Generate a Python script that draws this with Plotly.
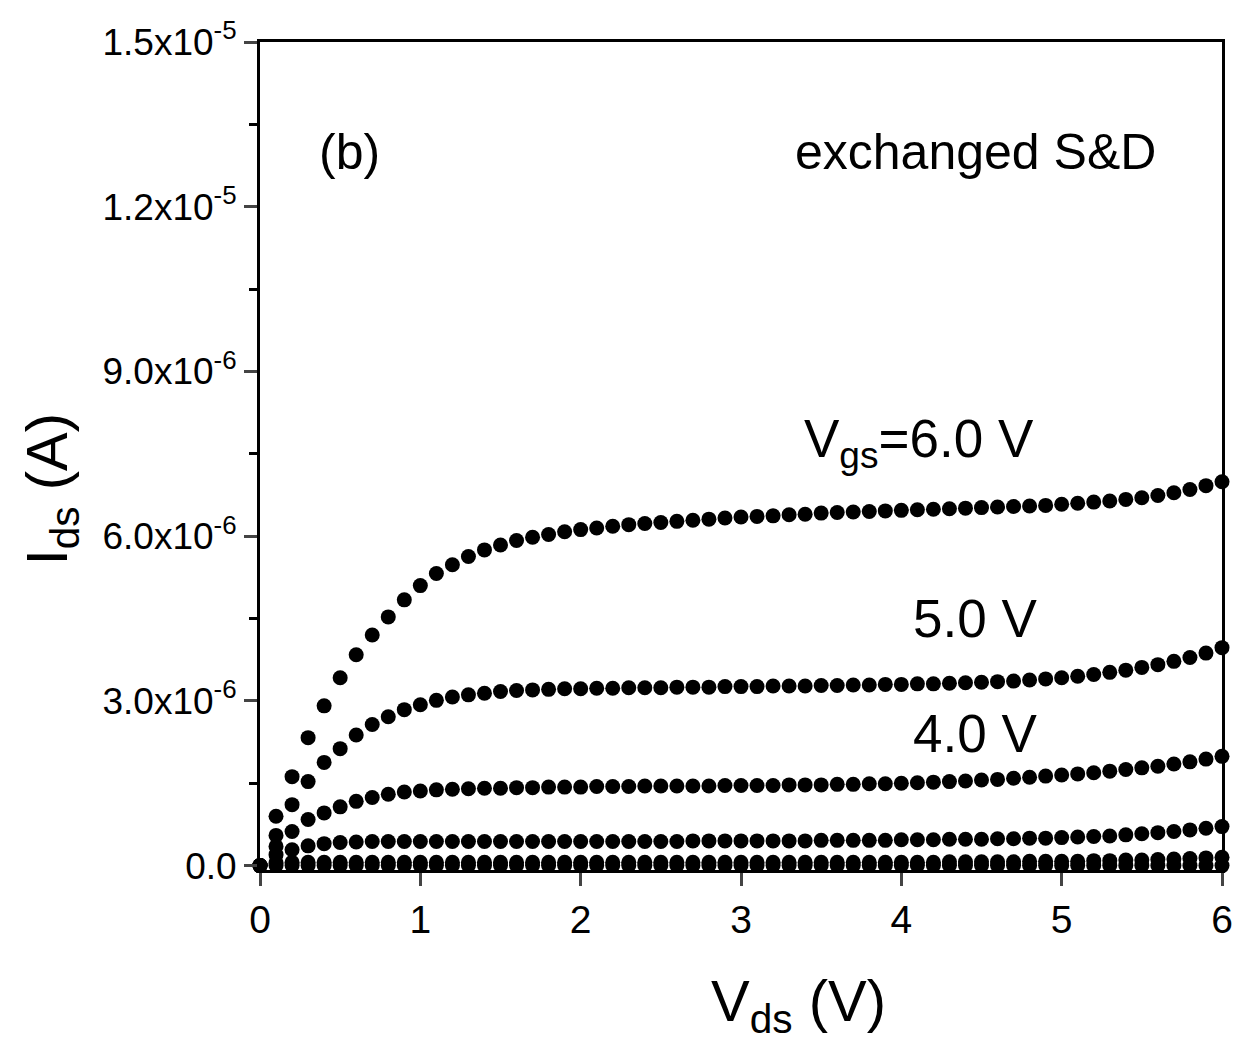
import plotly.graph_objects as go

# Drain-source voltage (V)
vds = [0.0, 0.1, 0.2, 0.3, 0.4, 0.5, 0.6, 0.7, 0.8, 0.9,
       1.0, 1.1, 1.2, 1.3, 1.4, 1.5, 1.6, 1.7, 1.8, 1.9,
       2.0, 2.1, 2.2, 2.3, 2.4, 2.5, 2.6, 2.7, 2.8, 2.9,
       3.0, 3.1, 3.2, 3.3, 3.4, 3.5, 3.6, 3.7, 3.8, 3.9,
       4.0, 4.1, 4.2, 4.3, 4.4, 4.5, 4.6, 4.7, 4.8, 4.9,
       5.0, 5.1, 5.2, 5.3, 5.4, 5.5, 5.6, 5.7, 5.8, 5.9, 6.0]

# Drain current in units of 1e-6 A
ids_vgs6 = [0.00, 0.90, 1.62, 2.33, 2.91, 3.42, 3.84, 4.20, 4.53, 4.84,
            5.10, 5.32, 5.48, 5.63, 5.75, 5.84, 5.92, 5.98, 6.03, 6.08,
            6.12, 6.15, 6.18, 6.21, 6.23, 6.25, 6.27, 6.29, 6.31, 6.33,
            6.35, 6.36, 6.37, 6.39, 6.40, 6.42, 6.43, 6.44, 6.45, 6.46,
            6.47, 6.48, 6.49, 6.50, 6.51, 6.52, 6.53, 6.54, 6.55, 6.56,
            6.58, 6.60, 6.62, 6.64, 6.67, 6.70, 6.74, 6.79, 6.85, 6.92, 6.99]
ids_vgs5 = [0.00, 0.55, 1.11, 1.53, 1.88, 2.13, 2.38, 2.57, 2.71, 2.84,
            2.93, 3.01, 3.07, 3.11, 3.14, 3.17, 3.19, 3.20, 3.21, 3.22,
            3.22, 3.23, 3.23, 3.24, 3.24, 3.24, 3.25, 3.25, 3.25, 3.26,
            3.26, 3.26, 3.27, 3.27, 3.27, 3.28, 3.28, 3.29, 3.29, 3.30,
            3.30, 3.31, 3.31, 3.32, 3.33, 3.34, 3.35, 3.36, 3.38, 3.40,
            3.42, 3.45, 3.48, 3.52, 3.56, 3.61, 3.66, 3.72, 3.79, 3.87, 3.97]
ids_vgs4 = [0.00, 0.35, 0.62, 0.84, 0.96, 1.07, 1.17, 1.24, 1.30, 1.34,
            1.36, 1.38, 1.39, 1.40, 1.41, 1.41, 1.42, 1.42, 1.43, 1.43,
            1.43, 1.44, 1.44, 1.44, 1.45, 1.45, 1.45, 1.45, 1.45, 1.46,
            1.46, 1.46, 1.46, 1.47, 1.47, 1.47, 1.48, 1.48, 1.49, 1.49,
            1.50, 1.51, 1.52, 1.53, 1.54, 1.56, 1.57, 1.59, 1.61, 1.63,
            1.65, 1.67, 1.69, 1.72, 1.75, 1.78, 1.81, 1.85, 1.89, 1.94, 1.99]
ids_vgs3 = [0.00, 0.20, 0.29, 0.36, 0.40, 0.42, 0.43, 0.44, 0.44, 0.44,
            0.44, 0.44, 0.44, 0.44, 0.44, 0.44, 0.44, 0.44, 0.44, 0.44,
            0.44, 0.44, 0.44, 0.44, 0.44, 0.44, 0.44, 0.45, 0.45, 0.45,
            0.45, 0.45, 0.45, 0.45, 0.45, 0.46, 0.46, 0.46, 0.46, 0.46,
            0.47, 0.47, 0.47, 0.48, 0.48, 0.48, 0.49, 0.49, 0.50, 0.50,
            0.51, 0.52, 0.53, 0.54, 0.56, 0.58, 0.60, 0.62, 0.65, 0.68, 0.71]
ids_vgs2 = [0.00, 0.05, 0.06, 0.06, 0.06, 0.06, 0.06, 0.06, 0.06, 0.06,
            0.06, 0.06, 0.06, 0.06, 0.06, 0.06, 0.06, 0.06, 0.06, 0.06,
            0.06, 0.06, 0.06, 0.06, 0.06, 0.06, 0.06, 0.06, 0.06, 0.06,
            0.06, 0.06, 0.06, 0.06, 0.06, 0.06, 0.06, 0.06, 0.06, 0.06,
            0.06, 0.06, 0.06, 0.07, 0.07, 0.07, 0.07, 0.07, 0.08, 0.08,
            0.08, 0.08, 0.09, 0.09, 0.10, 0.10, 0.11, 0.12, 0.13, 0.14, 0.15]
ids_vgs1 = [0.00, 0.00, 0.00, 0.00, 0.00, 0.00, 0.00, 0.00, 0.00, 0.00,
            0.00, 0.00, 0.00, 0.00, 0.00, 0.00, 0.00, 0.00, 0.00, 0.00,
            0.00, 0.00, 0.00, 0.00, 0.00, 0.00, 0.00, 0.00, 0.00, 0.00,
            0.00, 0.00, 0.00, 0.00, 0.00, 0.00, 0.00, 0.00, 0.00, 0.00,
            0.00, 0.00, 0.00, 0.00, 0.00, 0.00, 0.00, 0.00, 0.00, 0.00,
            0.00, 0.00, 0.00, 0.00, 0.00, 0.00, 0.00, 0.00, 0.00, 0.00, 0.00]

series = [ids_vgs6, ids_vgs5, ids_vgs4, ids_vgs3, ids_vgs2, ids_vgs1]
series_names = ["6.0 V", "5.0 V", "4.0 V", "3.0 V", "2.0 V", "1.0 V"]

ytick_vals = [0, 3e-6, 6e-6, 9e-6, 1.2e-5, 1.5e-5]
ytick_text = ["0.0", "3.0x10<sup>-6</sup>", "6.0x10<sup>-6</sup>",
              "9.0x10<sup>-6</sup>", "1.2x10<sup>-5</sup>", "1.5x10<sup>-5</sup>"]
xtick_vals = [0, 1, 2, 3, 4, 5, 6]

FONT = "Liberation Sans, Arial, sans-serif"

fig = go.Figure()
for name, vals in zip(series_names, series):
    fig.add_trace(go.Scatter(
        x=vds, y=[v * 1e-6 for v in vals], mode="markers", name=name,
        marker=dict(color="black", size=15, line=dict(width=0)),
        cliponaxis=False, showlegend=False))

fig.update_layout(
    width=1241, height=1049,
    margin=dict(l=260, r=8, t=42, b=179),
    plot_bgcolor="white", paper_bgcolor="white",
    font=dict(family=FONT, color="black"),
)
fig.update_xaxes(
    range=[0, 6], tickvals=xtick_vals, ticks="outside", ticklen=13, tickwidth=3,
    showline=True, linewidth=3, linecolor="black", mirror=True, showgrid=False,
    zeroline=False, tickfont=dict(size=39, family=FONT),
)
fig.update_yaxes(
    range=[-0.08e-6, 15e-6], tickvals=ytick_vals, ticktext=ytick_text,
    ticks="outside", ticklen=13, tickwidth=3,
    minor=dict(tickvals=[1.5e-6, 4.5e-6, 7.5e-6, 10.5e-6, 13.5e-6], ticks="outside",
               ticklen=8, tickwidth=3, tickcolor="black"),
    showline=True, linewidth=3, linecolor="black", mirror=True, showgrid=False,
    zeroline=False, tickfont=dict(size=37, family=FONT),
)

# Axis titles placed as annotations (offset like the reference)
fig.add_annotation(xref="paper", yref="paper", x=0.56, y=-0.163,
                   text="V<sub>ds</sub> (V)", showarrow=False,
                   xanchor="center", yanchor="middle",
                   font=dict(size=58, family=FONT, color="black"))
fig.add_annotation(xref="paper", yref="paper", x=-0.217, y=0.46,
                   text="I<sub>ds</sub> (A)", showarrow=False, textangle=-90,
                   xanchor="center", yanchor="middle",
                   font=dict(size=58, family=FONT, color="black"))

annots = [
    dict(x=0.56, y=13.0e-6, text="(b)", xanchor="center", size=50),
    dict(x=5.6, y=13.0e-6, text="exchanged S&D", xanchor="right", size=50),
    dict(x=3.38, y=7.7e-6, text="V<sub>gs</sub>=6.0 V", xanchor="left", size=53),
    dict(x=4.06, y=4.5e-6, text="5.0 V", xanchor="left", size=53),
    dict(x=4.06, y=2.4e-6, text="4.0 V", xanchor="left", size=53),
]
for a in annots:
    fig.add_annotation(x=a["x"], y=a["y"], text=a["text"], showarrow=False,
                       xanchor=a["xanchor"], yanchor="middle",
                       font=dict(size=a["size"], family=FONT, color="black"))

fig.write_html("out.html")
